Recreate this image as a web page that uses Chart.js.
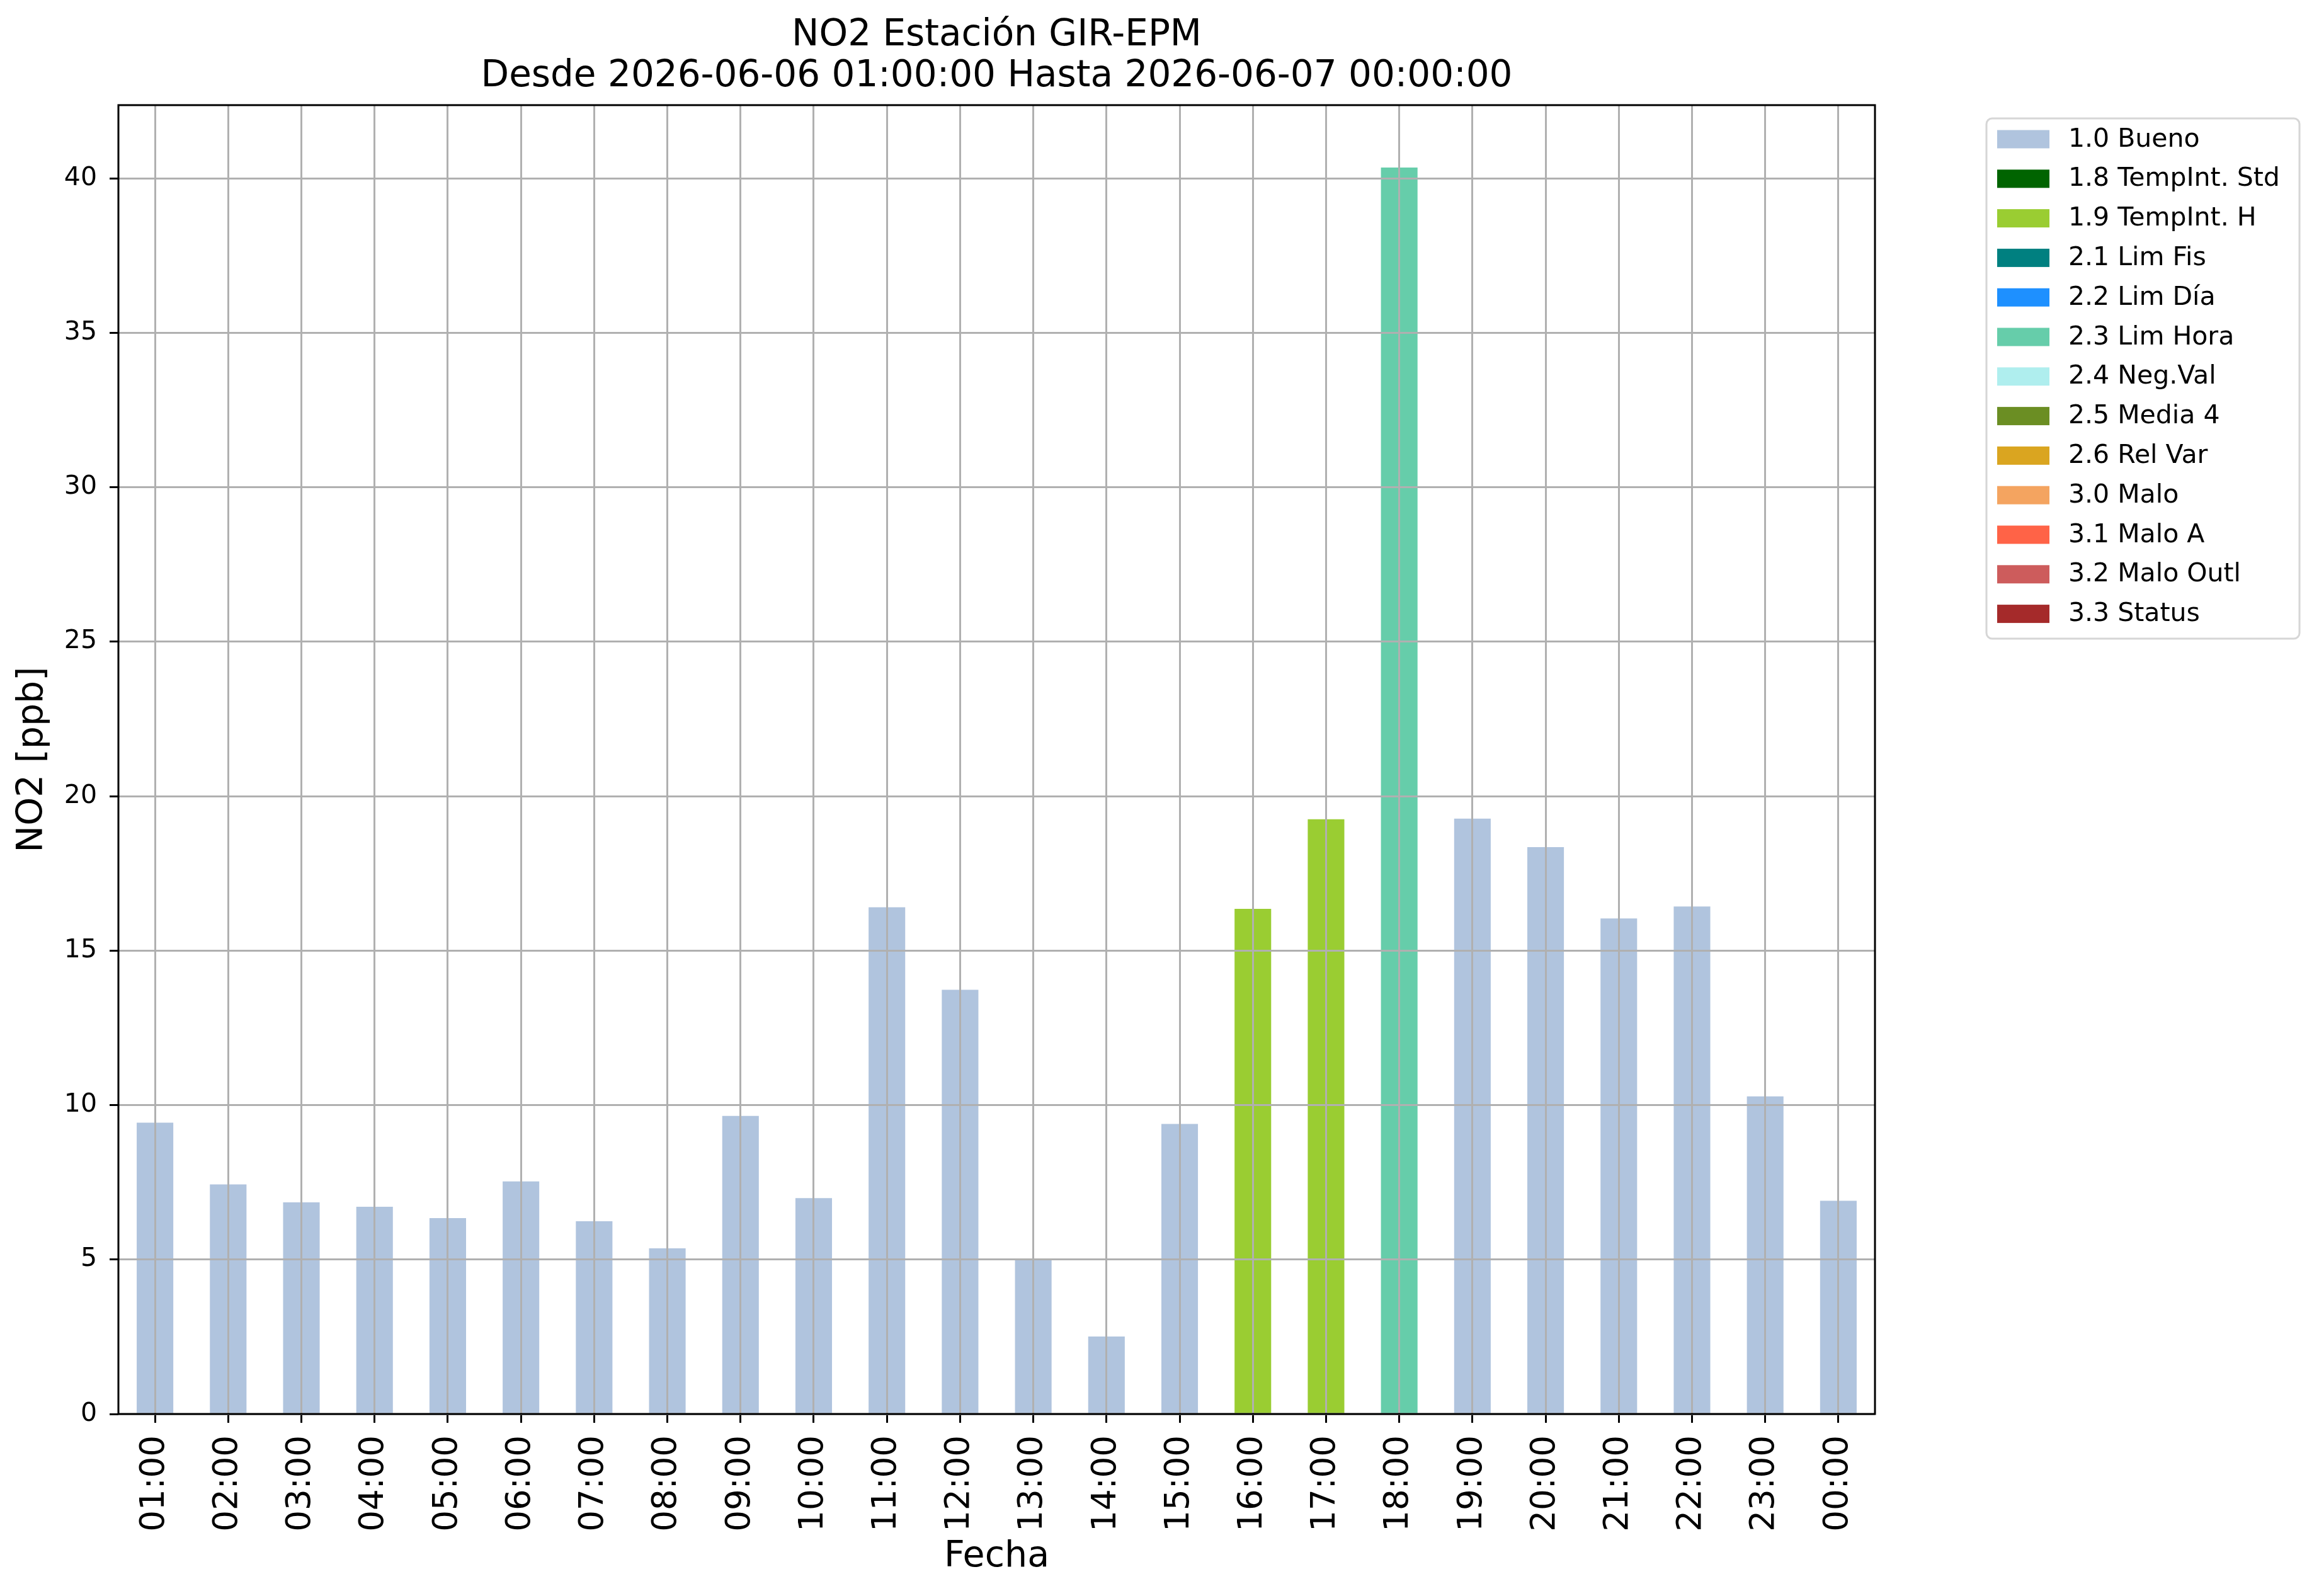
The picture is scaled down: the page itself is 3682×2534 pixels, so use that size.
<!DOCTYPE html>
<html>
<head>
<meta charset="utf-8">
<script src="https://cdn.jsdelivr.net/npm/chart.js@4.4.1/dist/chart.umd.min.js"></script>
<style>
html, body { margin: 0; padding: 0; background: #fff; }
#wrap { width: 3682px; height: 2534px; }
</style>
</head>
<body>
<div id="wrap"><canvas id="no2Chart"></canvas></div>
<script>
const hours = ['01:00', '02:00', '03:00', '04:00', '05:00', '06:00', '07:00', '08:00',
  '09:00', '10:00', '11:00', '12:00', '13:00', '14:00', '15:00', '16:00',
  '17:00', '18:00', '19:00', '20:00', '21:00', '22:00', '23:00', '00:00'];
const no2Values = [9.43, 7.43, 6.85, 6.71, 6.34, 7.53, 6.24, 5.36,
  9.65, 6.99, 16.40, 13.73, 4.98, 2.51, 9.39, 16.35,
  19.25, 40.35, 19.27, 18.35, 16.04, 16.43, 10.28, 6.90];
const no2Flags = ['1.0', '1.0', '1.0', '1.0', '1.0', '1.0', '1.0', '1.0',
  '1.0', '1.0', '1.0', '1.0', '1.0', '1.0', '1.0', '1.9',
  '1.9', '2.3', '1.0', '1.0', '1.0', '1.0', '1.0', '1.0'];

const flagCodes = ['1.0', '1.8', '1.9', '2.1', '2.2', '2.3', '2.4', '2.5', '2.6', '3.0', '3.1', '3.2', '3.3'];
const flagNames = ['Bueno', 'TempInt. Std', 'TempInt. H', 'Lim Fis', 'Lim Día', 'Lim Hora',
  'Neg.Val', 'Media 4', 'Rel Var', 'Malo', 'Malo A', 'Malo Outl', 'Status'];
const flagColors = ['#B0C4DE', '#006400', '#9ACD32', '#008080', '#1E90FF', '#66CDAA',
  '#AFEEEE', '#6B8E23', '#DAA520', '#F4A460', '#FF6347', '#CD5C5C', '#A52A2A'];

const yTicks = [0, 5, 10, 15, 20, 25, 30, 35, 40];
const yMax = Math.max(...no2Values) * 1.05;

const titleLines = ['NO2 Estación GIR-EPM', 'Desde 2026-06-06 01:00:00 Hasta 2026-06-07 00:00:00'];

const gridGrey = '#b0b0b0';
const fontFamily = "'DejaVu Sans', sans-serif";

Chart.defaults.font.family = fontFamily;
Chart.defaults.color = '#000';

const datasets = flagCodes.map((code, k) => ({
  label: code + ' ' + flagNames[k],
  data: no2Values.map((v, i) => (no2Flags[i] === code ? v : null)),
  backgroundColor: flagColors[k],
  borderWidth: 0,
  barPercentage: 0.5,
  categoryPercentage: 1.0
}));

// black frame around the plot, like matplotlib spines
const framePlugin = {
  id: 'frame',
  afterDraw(chart) {
    const { ctx, chartArea: a } = chart;
    ctx.save();
    ctx.strokeStyle = '#000';
    ctx.lineWidth = 3;
    ctx.strokeRect(a.left, a.top, a.right - a.left, a.bottom - a.top);
    ctx.restore();
  }
};

// legend box to the right of the plot
const boxLegendPlugin = {
  id: 'boxLegend',
  afterDraw(chart) {
    const ctx = chart.ctx;
    const x0 = 3154, y0 = 188, w = 497, h = 826, r = 9;
    const rowTop = 221, rowStep = 62.8;
    ctx.save();
    ctx.beginPath();
    ctx.roundRect(x0, y0, w, h, r);
    ctx.fillStyle = 'rgba(255,255,255,0.8)';
    ctx.fill();
    ctx.lineWidth = 3;
    ctx.strokeStyle = '#d6d6d6';
    ctx.stroke();
    ctx.font = '41px ' + fontFamily;
    ctx.textBaseline = 'middle';
    ctx.textAlign = 'left';
    chart.data.datasets.forEach((ds, k) => {
      const cy = rowTop + k * rowStep;
      ctx.fillStyle = ds.backgroundColor;
      ctx.fillRect(3171, cy - 14.5, 83, 29);
      ctx.fillStyle = '#000';
      ctx.fillText(ds.label, 3284, cy + 1);
    });
    ctx.restore();
  }
};

new Chart(document.getElementById('no2Chart'), {
  type: 'bar',
  data: { labels: hours, datasets: datasets },
  options: {
    responsive: true,
    maintainAspectRatio: false,
    devicePixelRatio: 1,
    animation: false,
    layout: { padding: { left: 0, right: 705, top: 0, bottom: 0 } },
    plugins: {
      legend: { display: false },
      tooltip: { enabled: false },
      title: {
        display: true,
        text: titleLines,
        fullSize: false,
        color: '#000',
        font: { size: 58, weight: 'normal', lineHeight: 1.12 },
        padding: { top: 24, bottom: 13 }
      }
    },
    scales: {
      x: {
        stacked: true,
        offset: true,
        border: { display: false },
        grid: { z: 1, offset: false, color: gridGrey, lineWidth: 3, tickColor: '#000', tickWidth: 3, tickLength: 14 },
        ticks: { autoSkip: false, minRotation: 90, maxRotation: 90, padding: 20, color: '#000', font: { size: 53 } },
        title: { display: true, text: 'Fecha', color: '#000', font: { size: 57 }, padding: { top: 0, bottom: 28 } },
        afterFit(scale) { scale.height = 289; }
      },
      y: {
        stacked: true,
        min: 0,
        max: yMax,
        border: { display: false },
        grid: { z: 1, color: gridGrey, lineWidth: 3, tickColor: '#000', tickWidth: 3, tickLength: 14 },
        ticks: { padding: 20, color: '#000', font: { size: 41 } },
        afterBuildTicks(scale) { scale.ticks = yTicks.map(v => ({ value: v })); },
        title: { display: true, text: 'NO2 [ppb]', color: '#000', font: { size: 57 }, padding: { top: 18, bottom: 0 } },
        afterFit(scale) { scale.width = 188; }
      }
    }
  },
  plugins: [framePlugin, boxLegendPlugin]
});
</script>
</body>
</html>
